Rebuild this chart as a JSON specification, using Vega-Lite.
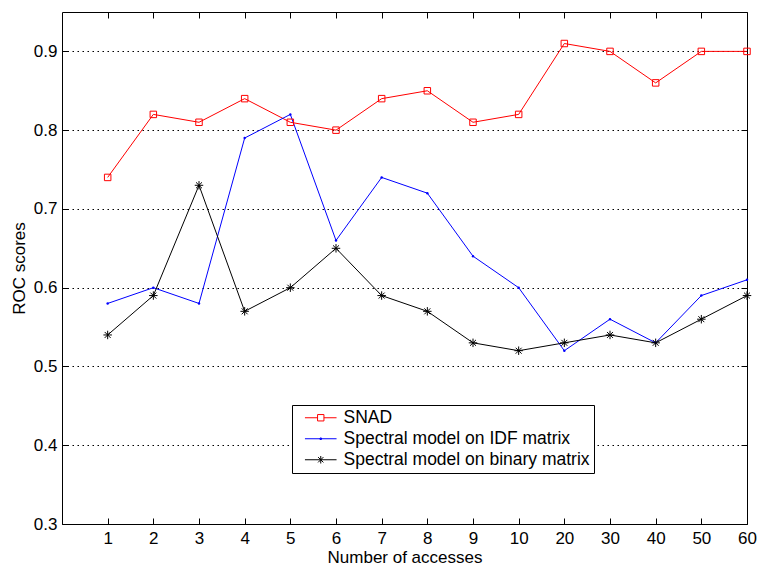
{
  "$schema": "https://vega.github.io/schema/vega-lite/v6.json",
  "width": 685,
  "height": 512,
  "autosize": {"type": "none"},
  "padding": {"left": 62, "top": 12, "right": 13, "bottom": 42},
  "background": "#ffffff",
  "config": {
    "font": "Liberation Sans",
    "view": {"stroke": "#000000", "strokeWidth": 1},
    "axis": {
      "labelFontSize": 17,
      "titleFontSize": 17,
      "titleFontWeight": "normal",
      "labelColor": "#000000",
      "titleColor": "#000000",
      "domainColor": "#000000",
      "tickColor": "#000000",
      "tickWidth": 1,
      "tickOpacity": 1,
      "ticks": true,
      "labelFont": "Liberation Sans",
      "titleFont": "Liberation Sans"
    },
    "legend": {"labelFont": "Liberation Sans"}
  },
  "data": {
    "values": [
      {"accesses": 1, "series": "SNAD", "score": 0.74},
      {"accesses": 2, "series": "SNAD", "score": 0.82},
      {"accesses": 3, "series": "SNAD", "score": 0.81},
      {"accesses": 4, "series": "SNAD", "score": 0.84},
      {"accesses": 5, "series": "SNAD", "score": 0.81},
      {"accesses": 6, "series": "SNAD", "score": 0.80},
      {"accesses": 7, "series": "SNAD", "score": 0.84},
      {"accesses": 8, "series": "SNAD", "score": 0.85},
      {"accesses": 9, "series": "SNAD", "score": 0.81},
      {"accesses": 10, "series": "SNAD", "score": 0.82},
      {"accesses": 20, "series": "SNAD", "score": 0.91},
      {"accesses": 30, "series": "SNAD", "score": 0.90},
      {"accesses": 40, "series": "SNAD", "score": 0.86},
      {"accesses": 50, "series": "SNAD", "score": 0.90},
      {"accesses": 60, "series": "SNAD", "score": 0.90},
      {"accesses": 1, "series": "Spectral model on IDF matrix", "score": 0.58},
      {"accesses": 2, "series": "Spectral model on IDF matrix", "score": 0.60},
      {"accesses": 3, "series": "Spectral model on IDF matrix", "score": 0.58},
      {"accesses": 4, "series": "Spectral model on IDF matrix", "score": 0.79},
      {"accesses": 5, "series": "Spectral model on IDF matrix", "score": 0.82},
      {"accesses": 6, "series": "Spectral model on IDF matrix", "score": 0.66},
      {"accesses": 7, "series": "Spectral model on IDF matrix", "score": 0.74},
      {"accesses": 8, "series": "Spectral model on IDF matrix", "score": 0.72},
      {"accesses": 9, "series": "Spectral model on IDF matrix", "score": 0.64},
      {"accesses": 10, "series": "Spectral model on IDF matrix", "score": 0.60},
      {"accesses": 20, "series": "Spectral model on IDF matrix", "score": 0.52},
      {"accesses": 30, "series": "Spectral model on IDF matrix", "score": 0.56},
      {"accesses": 40, "series": "Spectral model on IDF matrix", "score": 0.53},
      {"accesses": 50, "series": "Spectral model on IDF matrix", "score": 0.59},
      {"accesses": 60, "series": "Spectral model on IDF matrix", "score": 0.61},
      {"accesses": 1, "series": "Spectral model on binary matrix", "score": 0.54},
      {"accesses": 2, "series": "Spectral model on binary matrix", "score": 0.59},
      {"accesses": 3, "series": "Spectral model on binary matrix", "score": 0.73},
      {"accesses": 4, "series": "Spectral model on binary matrix", "score": 0.57},
      {"accesses": 5, "series": "Spectral model on binary matrix", "score": 0.60},
      {"accesses": 6, "series": "Spectral model on binary matrix", "score": 0.65},
      {"accesses": 7, "series": "Spectral model on binary matrix", "score": 0.59},
      {"accesses": 8, "series": "Spectral model on binary matrix", "score": 0.57},
      {"accesses": 9, "series": "Spectral model on binary matrix", "score": 0.53},
      {"accesses": 10, "series": "Spectral model on binary matrix", "score": 0.52},
      {"accesses": 20, "series": "Spectral model on binary matrix", "score": 0.53},
      {"accesses": 30, "series": "Spectral model on binary matrix", "score": 0.54},
      {"accesses": 40, "series": "Spectral model on binary matrix", "score": 0.53},
      {"accesses": 50, "series": "Spectral model on binary matrix", "score": 0.56},
      {"accesses": 60, "series": "Spectral model on binary matrix", "score": 0.59}
    ]
  },
  "layer": [
    {
      "mark": {"type": "line", "strokeWidth": 1},
      "encoding": {
        "x": {
          "field": "accesses",
          "type": "ordinal",
          "scale": {"type": "point", "domain": [0, 1, 2, 3, 4, 5, 6, 7, 8, 9, 10, 20, 30, 40, 50, 60], "range": [0, 685], "padding": 0},
          "axis": {
            "orient": "bottom",
            "title": "Number of accesses",
            "values": [1, 2, 3, 4, 5, 6, 7, 8, 9, 10, 20, 30, 40, 50, 60],
            "labelAngle": 0,
            "offset": -6,
            "tickSize": 6,
            "labelPadding": 6.5,
            "grid": false,
            "domain": false,
            "titleY": 44.5,
            "titleBaseline": "alphabetic"
          }
        },
        "y": {
          "field": "score",
          "type": "quantitative",
          "scale": {"domain": [0.3, 0.95], "nice": false, "zero": false},
          "axis": {
            "orient": "left",
            "title": "ROC scores",
            "values": [0.3, 0.4, 0.5, 0.6, 0.7, 0.8, 0.9],
            "format": ".1f",
            "offset": -6,
            "tickSize": 6,
            "labelPadding": 5,
            "grid": true,
            "gridColor": "#000000",
            "gridDash": [1.5, 3.5],
            "gridWidth": 1,
            "gridOpacity": 1,
            "domain": false,
            "titleX": -44,
            "titleBaseline": "alphabetic"
          }
        },
        "color": {
          "field": "series",
          "type": "nominal",
          "scale": {
            "domain": ["SNAD", "Spectral model on IDF matrix", "Spectral model on binary matrix"],
            "range": ["#ff0000", "#0000ff", "#000000"]
          }
        }
      }
    },
    {
      "transform": [{"filter": "datum.series === 'SNAD'"}],
      "mark": {"type": "point", "shape": "square", "size": 42, "filled": false, "color": "#ff0000", "strokeWidth": 1, "opacity": 1},
      "encoding": {
        "x": {
          "field": "accesses",
          "type": "ordinal",
          "axis": {"orient": "top", "labels": false, "title": null, "ticks": true, "offset": -6, "tickSize": 6, "domain": false, "grid": false, "values": [1, 2, 3, 4, 5, 6, 7, 8, 9, 10, 20, 30, 40, 50, 60]}
        },
        "y": {
          "field": "score",
          "type": "quantitative",
          "axis": {"orient": "right", "labels": false, "title": null, "ticks": true, "offset": -6, "tickSize": 6, "domain": false, "grid": false, "values": [0.3, 0.4, 0.5, 0.6, 0.7, 0.8, 0.9]}
        }
      }
    },
    {
      "transform": [{"filter": "datum.series === 'Spectral model on IDF matrix'"}],
      "mark": {"type": "point", "shape": "circle", "size": 6, "filled": true, "color": "#0000ff", "opacity": 1},
      "encoding": {
        "x": {"field": "accesses", "type": "ordinal", "axis": null},
        "y": {"field": "score", "type": "quantitative", "axis": null}
      }
    },
    {
      "transform": [{"filter": "datum.series === 'Spectral model on binary matrix'"}],
      "mark": {"type": "point", "shape": "M-1,0H1M0,-1V1M-0.7,-0.7L0.7,0.7M-0.7,0.7L0.7,-0.7", "size": 72, "filled": false, "color": "#000000", "strokeWidth": 1, "opacity": 1},
      "encoding": {
        "x": {"field": "accesses", "type": "ordinal", "axis": null},
        "y": {"field": "score", "type": "quantitative", "axis": null}
      }
    },
    {
      "transform": [{"filter": "false"}],
      "mark": {"type": "point", "filled": false, "strokeWidth": 1},
      "encoding": {
        "x": {"field": "accesses", "type": "ordinal", "axis": null},
        "y": {"field": "score", "type": "quantitative", "axis": null},
        "color": {
          "field": "series",
          "type": "nominal",
          "legend": {
            "orient": "none",
            "legendX": 230,
            "legendY": 393,
            "title": null,
            "strokeColor": "#000000",
            "fillColor": "#ffffff",
            "padding": 4,
            "symbolSize": 100,
            "symbolStrokeWidth": 1,
            "symbolOffset": 16,
            "labelOffset": 14,
            "labelLimit": 400,
            "rowPadding": 2,
            "labelFontSize": 17.5,
            "labelColor": "#000000",
            "symbolOpacity": 1
          }
        },
        "shape": {
          "field": "series",
          "type": "nominal",
          "scale": {
            "domain": ["SNAD", "Spectral model on IDF matrix", "Spectral model on binary matrix"],
            "range": [
              "M-3.16,0H-0.64M0.64,0H3.16M-0.64,-0.64H0.64V0.64H-0.64Z",
              "M-3.16,0H3.16M-0.15,-0.15H0.15V0.15H-0.15Z",
              "M-3.16,0H3.16M0,-0.75V0.75M-0.53,-0.53L0.53,0.53M-0.53,0.53L0.53,-0.53"
            ]
          },
          "legend": {
            "orient": "none",
            "legendX": 230,
            "legendY": 393,
            "title": null,
            "strokeColor": "#000000",
            "fillColor": "#ffffff",
            "padding": 4,
            "symbolSize": 100,
            "symbolStrokeWidth": 1,
            "symbolOffset": 16,
            "labelOffset": 14,
            "labelLimit": 400,
            "rowPadding": 2,
            "labelFontSize": 17.5,
            "labelColor": "#000000",
            "symbolOpacity": 1
          }
        }
      }
    }
  ],
  "resolve": {"axis": {"x": "independent", "y": "independent"}}
}
